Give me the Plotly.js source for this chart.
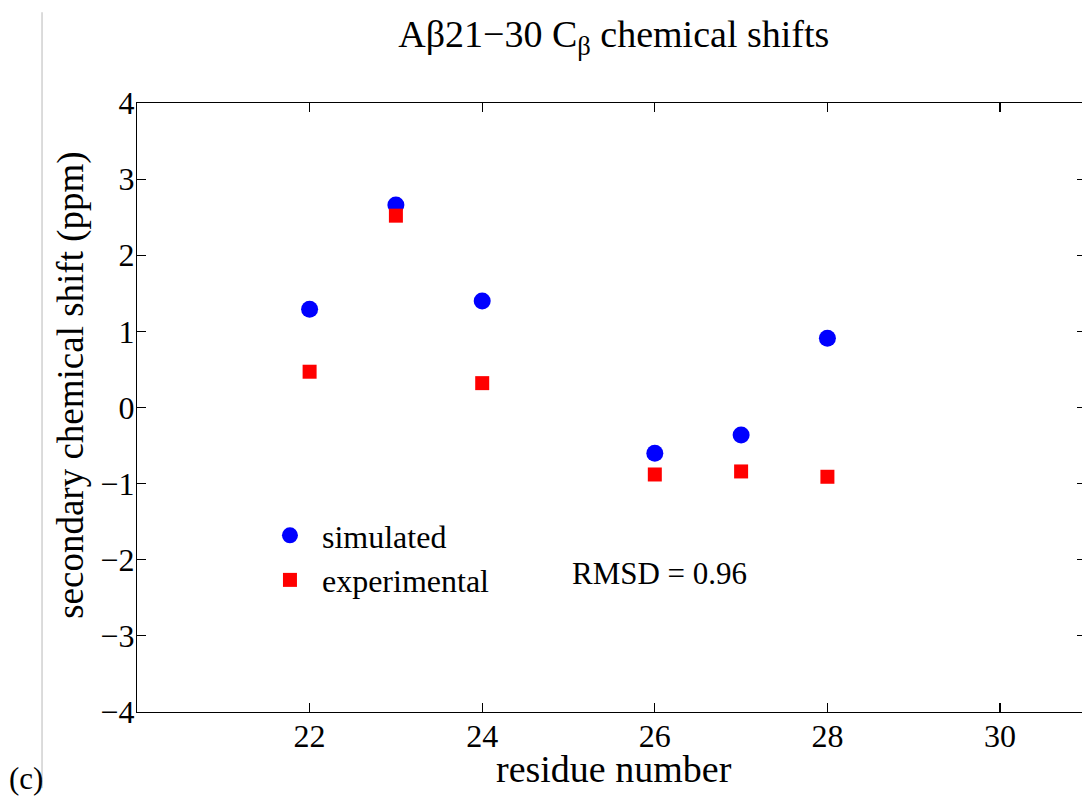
<!DOCTYPE html>
<html>
<head>
<meta charset="utf-8">
<script src="https://cdn.plot.ly/plotly-3.0.1.min.js"></script>
<style>
html, body { margin: 0; padding: 0; overflow: hidden; background: #fff; }
#chart { width: 1082px; height: 798px; }
</style>
</head>
<body>
<div id="chart"></div>
<script>
const residues = [22, 23, 24, 26, 27, 28];
const simulated = [1.29, 2.66, 1.40, -0.60, -0.36, 0.91];
const experimental = [0.47, 2.52, 0.32, -0.88, -0.84, -0.91];
const xTicks = [22, 24, 26, 28, 30];
const yTicks = [-4, -3, -2, -1, 0, 1, 2, 3, 4];

const FONT = "'Liberation Serif', 'Times New Roman', serif";

const traces = [
  {
    x: residues, y: simulated, name: 'simulated', type: 'scatter', mode: 'markers',
    marker: { symbol: 'circle', size: 17, color: '#0000ff' }
  },
  {
    x: residues, y: experimental, name: 'experimental', type: 'scatter', mode: 'markers',
    marker: { symbol: 'square', size: 14, color: '#ff0000' }
  },
  {
    // invisible helper so the right-hand tick axis is drawn
    x: [residues[0]], y: [simulated[0]], yaxis: 'y2', type: 'scatter', mode: 'markers',
    showlegend: false, hoverinfo: 'skip', marker: { size: 1, opacity: 0 }
  }
];

const tickCommon = {
  ticks: 'inside', ticklen: 9, tickwidth: 1.2, tickcolor: '#000',
  showgrid: false, zeroline: false, ticklabelstandoff: -5,
  tickfont: { family: FONT, size: 32, color: '#000' }
};

const layout = {
  width: 1082, height: 798,
  margin: { l: 137, r: 0, t: 103, b: 86 },
  paper_bgcolor: '#fff', plot_bgcolor: '#fff',
  font: { family: FONT, color: '#000' },
  title: {
    text: 'A\u03B221\u221230 C<sub>\u03B2</sub> chemical shifts',
    font: { family: FONT, size: 38, color: '#000' },
    x: 0.5045, xref: 'paper', xanchor: 'center',
    y: 0.958, yref: 'container', yanchor: 'middle'
  },
  xaxis: Object.assign({}, tickCommon, {
    showline: true, linecolor: '#000', linewidth: 1.2, mirror: 'ticks',
    range: [20, 30.95], tickvals: xTicks, ticktext: xTicks.map(String)
  }),
  yaxis: Object.assign({}, tickCommon, {
    showline: true, linecolor: '#000', linewidth: 1.2, mirror: false,
    range: [-4, 4], tickvals: yTicks
  }),
  yaxis2: Object.assign({}, tickCommon, {
    overlaying: 'y', side: 'right', anchor: 'x', showline: false, ticklen: 5,
    showticklabels: false, range: [-4, 4], tickvals: yTicks
  }),
  showlegend: true,
  legend: {
    x: 0.128, y: 0.335, xanchor: 'left', yanchor: 'top',
    bgcolor: 'rgba(0,0,0,0)', borderwidth: 0, itemwidth: 54,
    font: { family: FONT, size: 32, color: '#000' },
    tracegroupgap: 0
  },
  annotations: [
    { text: 'residue number',
      x: 0.5045, y: -0.0935, xref: 'paper', yref: 'paper', xanchor: 'center', yanchor: 'middle',
      showarrow: false, font: { family: FONT, size: 38, color: '#000' } },
    { text: 'secondary chemical shift (ppm)', textangle: -90,
      x: -0.0706, y: 0.536, xref: 'paper', yref: 'paper', xanchor: 'center', yanchor: 'middle',
      showarrow: false, font: { family: FONT, size: 37, color: '#000' } },
    { text: 'RMSD = 0.96', x: 26.06, y: -2.18, xref: 'x', yref: 'y', showarrow: false,
      font: { family: FONT, size: 31, color: '#000' } },
    { text: '(c)', x: -0.138, y: -0.109, xref: 'paper', yref: 'paper', xanchor: 'left', yanchor: 'middle',
      showarrow: false, font: { family: FONT, size: 31, color: '#000' } }
  ],
  shapes: [
    { type: 'line', xref: 'paper', yref: 'paper', x0: -0.1005, x1: -0.1005, y0: 1.149, y1: -0.125,
      line: { color: '#b8b8b8', width: 1 } }
  ]
};

Plotly.newPlot('chart', traces, layout, { displayModeBar: false, staticPlot: true });
</script>
</body>
</html>
